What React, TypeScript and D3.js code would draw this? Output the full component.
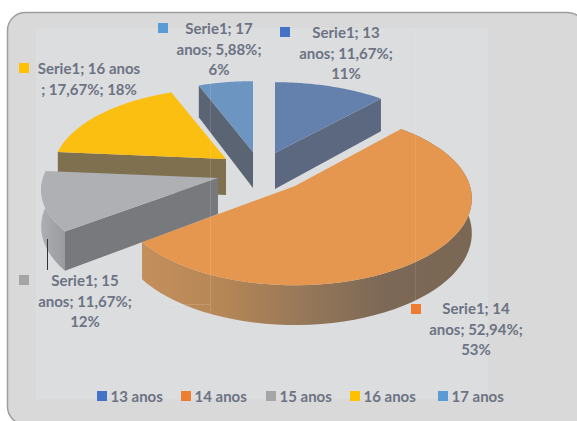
import React from "react";
import * as d3 from "d3";

const categories = ["13 anos", "14 anos", "15 anos", "16 anos", "17 anos"];
const values = [11.67, 52.94, 11.67, 17.67, 5.88];
const legendColors = ["#4472C4", "#ED7D31", "#A5A5A5", "#FFC000", "#5B9BD5"];
const topColors = ["#6480AD", "#E5974F", "#AEB0B3", "#FBBF12", "#6C95C1"];
const cutColors = ["#5C6880", "#7B6856", "#77797D", "#7F7050", "#5B6473"];
const labelLines = [
  ["Serie1; 13", "anos; 11,67%;", "11%"],
  ["Serie1; 14", "anos; 52,94%;", "53%"],
  ["Serie1; 15", "anos; 11,67%;", "12%"],
  ["Serie1; 16 anos", "; 17,67%; 18%"],
  ["Serie1; 17", "anos; 5,88%;", "6%"],
];

// layout (exploded centres, radii, label anchors)
const centres = [[275, 153], [295, 186], [218, 178], [226, 159], [253, 152]];
const radiiX = [175, 175, 175, 171, 170];
const radiiY = [81, 85, 81, 81, 81];
const depths = [36, 34, 36, 36, 36];
const labelPos = [[346, 33], [476, 309], [85, 281], [89, 69], [219, 29]];
const markerPos = [[280, 27], [411, 304], [19, 275], [19, 63], [158, 23]];
const legendX = [97, 181, 266, 350, 438];
const PERSP = 0.144;
const drawOrder = [4, 0, 3, 1, 2];
const TEXT = "#6C7383";
const FONT = "Lato, 'Open Sans', sans-serif";

const arcs = d3.pie<number>().sort(null)(values);

function project(i: number, a: number, radial = 1, down = 0): [number, number] {
  const X = Math.sin(a) * radial;
  const Y = Math.cos(a) * radial;
  const w = 1 + PERSP * Y;
  const [cx, cy] = centres[i];
  return [cx + (radiiX[i] * X) / w, cy - (radiiY[i] * Y) / w + down / w];
}

const line = d3.line<[number, number]>().curve(d3.curveLinear);

function rim(i: number, a0: number, a1: number, down = 0) {
  return d3.range(0, 61).map((k) => project(i, a0 + ((a1 - a0) * k) / 60, 1, down));
}

function topFace(i: number) {
  const { startAngle, endAngle } = arcs[i];
  const pts = rim(i, startAngle, endAngle);
  pts.push(project(i, 0, 0));
  return line(pts) + "Z";
}

function cutFace(i: number, a: number) {
  const r = project(i, a);
  const c = project(i, a, 0);
  const c2 = project(i, a, 0, depths[i]);
  const r2 = project(i, a, 1, depths[i]);
  return line([r, c, c2, r2]) + "Z";
}

function wall(i: number, a0: number, a1: number) {
  const pts = [...rim(i, a0, a1), ...rim(i, a1, a0, depths[i])];
  return line(pts) + "Z";
}

// which cut face is visible for each slice
const cutAngle = [arcs[0].endAngle, null, arcs[2].startAngle, arcs[3].startAngle, arcs[4].startAngle];

export default function App() {
  return (
    <svg
      width={577}
      height={421}
      style={{ position: "absolute", left: 0, top: 0, background: "#fff" }}
      fontFamily={FONT}
    >
      <defs>
        <linearGradient id="wall14" gradientUnits="userSpaceOnUse" x1={142} x2={470} y1={0} y2={0}>
          <stop offset="0" stopColor="#C48F5C" />
          <stop offset="0.25" stopColor="#B58656" />
          <stop offset="0.5" stopColor="#957759" />
          <stop offset="0.75" stopColor="#7B6856" />
          <stop offset="1" stopColor="#7A6855" />
        </linearGradient>
        <linearGradient id="wall15" gradientUnits="userSpaceOnUse" x1={42} x2={68} y1={0} y2={0}>
          <stop offset="0" stopColor="#ABADB0" />
          <stop offset="1" stopColor="#97999C" />
        </linearGradient>
      </defs>
      <rect x={7.5} y={12.5} width={578} height={412} rx={18} fill="#D9D9D9" stroke="#9E9E9E" strokeWidth={1.5} />
      <rect x={36} y={28} width={452} height={371} fill="#DCDDDF" />
      {drawOrder.map((i) => {
        const a = cutAngle[i];
        return (
          <g key={categories[i]}>
            {i === 1 && <path d={wall(1, arcs[1].startAngle, arcs[1].endAngle)} fill="url(#wall14)" />}
            {i === 2 && <path d={wall(2, arcs[2].startAngle, arcs[2].endAngle)} fill="url(#wall15)" />}
            {a !== null && <path d={cutFace(i, a as number)} fill={cutColors[i]} />}
            <path d={topFace(i)} fill={topColors[i]} />
          </g>
        );
      })}
      <line x1={210.5} x2={210.5} y1={60} y2={315} stroke="#fff" strokeOpacity={0.12} />
      <line x1={415.5} x2={415.5} y1={28} y2={300} stroke="#fff" strokeOpacity={0.1} />
      <line x1={170} x2={210} y1={304.5} y2={304.5} stroke="#fff" strokeOpacity={0.15} />
      <line x1={47.5} x2={47.5} y1={239} y2={270} stroke="#333" strokeWidth={1} />
      {categories.map((c, i) => (
        <g key={c}>
          <rect x={markerPos[i][0]} y={markerPos[i][1]} width={10} height={10} fill={legendColors[i]} />
          <text textAnchor="middle" fontSize={15} fontWeight={700} fill={TEXT}>
            {labelLines[i].map((t, k) => (
              <tspan key={k} x={labelPos[i][0]} y={labelPos[i][1] + k * 20.5} dy="0.35em">
                {t}
              </tspan>
            ))}
          </text>
          <rect x={legendX[i]} y={391} width={10} height={10} fill={legendColors[i]} />
          <text x={legendX[i] + 13.5} y={397} dy="0.36em" fontSize={15} fontWeight={700} fill={TEXT}>
            {c}
          </text>
        </g>
      ))}
    </svg>
  );
}
